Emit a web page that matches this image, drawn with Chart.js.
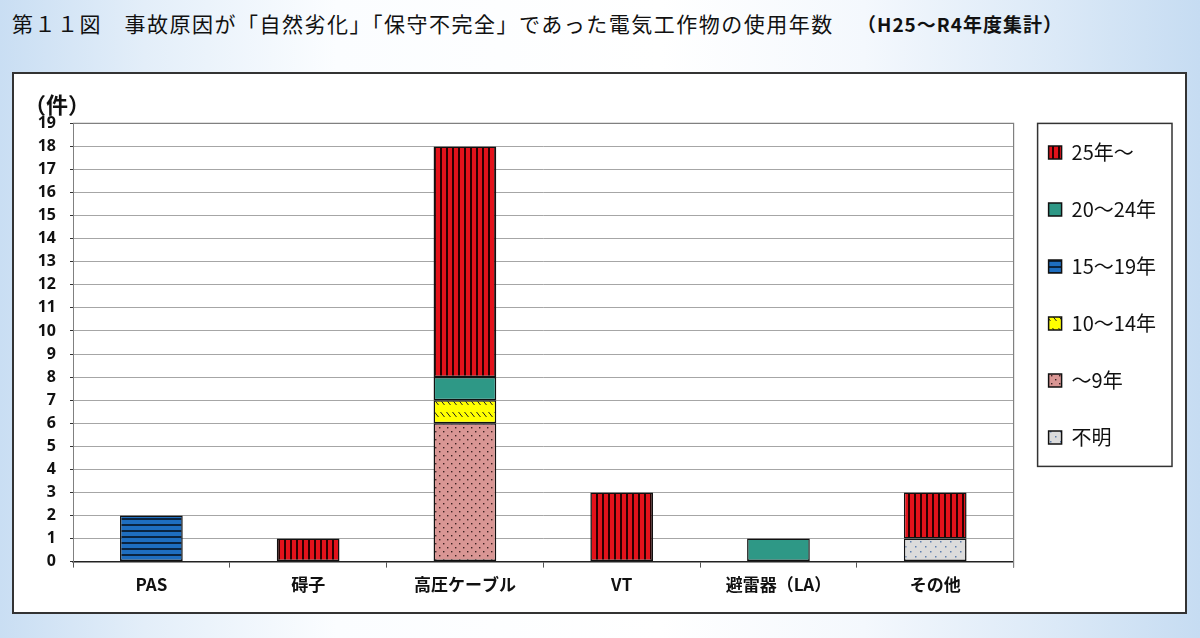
<!DOCTYPE html>
<html lang="ja">
<head>
<meta charset="utf-8">
<script src="https://cdn.jsdelivr.net/npm/chart.js@4"></script>
<style>
  body {
    margin: 0;
    width: 1200px;
    height: 638px;
    overflow: hidden;
    background: linear-gradient(90deg, #c9def3 0%, #e3eef9 12%, #fbfdff 28%, #ffffff 55%, #f4f8fd 72%, #dbe9f7 88%, #c6dcf2 100%);
    font-family: "Noto Sans CJK JP", sans-serif;
    position: relative;
  }
  #head {
    position: absolute;
    left: 12px;
    top: 8px;
    font-size: 21px;
    letter-spacing: 1.5px;
    color: #111;
    white-space: nowrap;
  }
  #sub {
    position: absolute;
    left: 857px;
    top: 10px;
    font-size: 19px;
    letter-spacing: 1px;
    font-weight: bold;
    color: #111;
    white-space: nowrap;
  }
  #box {
    position: absolute;
    left: 12px;
    top: 72px;
    width: 1171px;
    height: 538px;
    border: 2px solid #333;
    background: #fff;
  }
</style>
</head>
<body>
<div id="head">第１１図　事故原因が「自然劣化」「保守不完全」であった電気工作物の使用年数</div>
<div id="sub">（H25～R4年度集計）</div>
<div id="box"><canvas id="myChart" width="1171" height="538"></canvas></div>
<script>
const ctx = document.getElementById('myChart');

// categories
const labels = ['PAS', '碍子', '高圧ケーブル', 'VT', '避雷器（LA）', 'その他'];

// 使用年数別の件数 (bottom of stack first)
const unknown   = [0, 0, 0, 0, 0, 1];   // 不明
const under9    = [0, 0, 6, 0, 0, 0];   // ～9年
const y10to14   = [0, 0, 1, 0, 0, 0];   // 10～14年
const y15to19   = [2, 0, 0, 0, 0, 0];   // 15～19年
const y20to24   = [0, 0, 1, 0, 1, 0];   // 20～24年
const over25    = [0, 1, 10, 3, 0, 2];  // 25年～

const yTicks = [0, 19];  // axis min / max, step 1

// hatch fills like the excel patterns
function pattern(w, h, bg, draw) {
  const c = document.createElement('canvas');
  c.width = w; c.height = h;
  const g = c.getContext('2d');
  g.fillStyle = bg;
  g.fillRect(0, 0, w, h);
  draw(g);
  return g.createPattern(c, 'repeat');
}

const redStripe = pattern(6, 4, '#e3121b', g => { g.fillStyle = '#2b0000'; g.fillRect(0, 0, 2, 4); });
const blueLines = pattern(4, 6, '#1e6ec0', g => { g.fillStyle = '#0a2440'; g.fillRect(0, 0, 4, 2); });
const teal = '#2e9886';
const yellowHatch = pattern(6, 12, '#ffff00', g => {
  g.strokeStyle = '#222'; g.lineWidth = 1;
  g.beginPath(); g.moveTo(0.5, 2); g.lineTo(4.5, 7); g.stroke();
});
const pinkDots = pattern(8, 8, '#d99694', g => {
  g.fillStyle = '#3a2020';
  g.fillRect(1, 1, 1.4, 1.4); g.fillRect(5, 5, 1.4, 1.4);
});
const grayDots = pattern(10, 10, '#dcdcdc', g => {
  g.fillStyle = '#5f7fae';
  g.fillRect(1, 2, 1.5, 1.5); g.fillRect(6, 7, 1.5, 1.5);
});

function ds(label, values, fill) {
  return {
    label: label,
    data: values,
    backgroundColor: fill,
    borderColor: '#111',
    borderWidth: 1.5,
    borderSkipped: false,
    barPercentage: 0.8,
    categoryPercentage: 0.5
  };
}

const data = {
  labels: labels,
  datasets: [
    ds('不明', unknown, grayDots),
    ds('～9年', under9, pinkDots),
    ds('10～14年', y10to14, yellowHatch),
    ds('15～19年', y15to19, blueLines),
    ds('20～24年', y20to24, teal),
    ds('25年～', over25, redStripe)
  ]
};

// plot frame + legend frame
const frames = {
  id: 'frames',
  afterLayout(chart) {
    // pull the legend items up so the first one sits just under the plot top
    const lg = chart.legend;
    lg.top = chart.chartArea.top - 18;
    lg.height = lg.bottom - lg.top;
    lg.left -= 2;
    lg.right -= 2;
  },
  afterDraw(chart) {
    const c = chart.ctx;
    const a = chart.chartArea;
    c.save();
    c.strokeStyle = '#808080';
    c.lineWidth = 1.2;
    c.beginPath();
    c.moveTo(a.left, a.top);
    c.lineTo(a.right, a.top);
    c.lineTo(a.right, a.bottom + 6);
    c.stroke();
    const hb = chart.legend.legendHitBoxes;
    if (hb && hb.length) {
      const last = hb[hb.length - 1];
      const left = hb[0].left - 11;
      const top = hb[0].top - 19;
      const bottom = last.top + last.height + 19;
      let right = 0;
      hb.forEach(b => { right = Math.max(right, b.left + b.width); });
      c.strokeStyle = '#333';
      c.lineWidth = 1.5;
      c.strokeRect(left, top, right + 16 - left, bottom - top);
    }
    c.restore();
  }
};

const config = {
  type: 'bar',
  data: data,
  plugins: [frames],
  options: {
    responsive: false,
    animation: false,
    layout: { padding: { left: 10, right: 17, top: 8, bottom: 10 } },
    scales: {
      x: {
        stacked: true,
        grid: { display: true, drawOnChartArea: false, drawTicks: true, tickLength: 6, color: '#555', offset: true },
        border: { color: '#222', width: 1.5 },
        ticks: { color: '#111', padding: 7, font: { family: 'Noto Sans CJK JP', size: 17, weight: 'bold' } }
      },
      y: {
        stacked: true,
        min: yTicks[0],
        max: yTicks[1],
        afterFit: s => { s.width = 49; },
        grid: { color: '#a6a6a6', lineWidth: 1, tickLength: 3, tickColor: '#333' },
        border: { color: '#808080' },
        ticks: { stepSize: 1, precision: 0, color: '#111', padding: 14, font: { family: 'Noto Sans', size: 16, weight: 'bold' } }
      }
    },
    plugins: {
      legend: {
        position: 'right',
        align: 'start',
        reverse: true,
        labels: {
          boxWidth: 13,
          boxHeight: 13,
          padding: 37,
          color: '#111',
          font: { family: 'Noto Sans CJK JP', size: 20 }
        }
      },
      title: {
        display: true,
        text: '（件）',
        align: 'start',
        color: '#111',
        padding: { top: 9, bottom: 6 },
        font: { family: 'Noto Sans CJK JP', size: 22, weight: 'bold' }
      },
      tooltip: { enabled: false }
    }
  }
};

const myChart = new Chart(ctx, config);
</script>
</body>
</html>
